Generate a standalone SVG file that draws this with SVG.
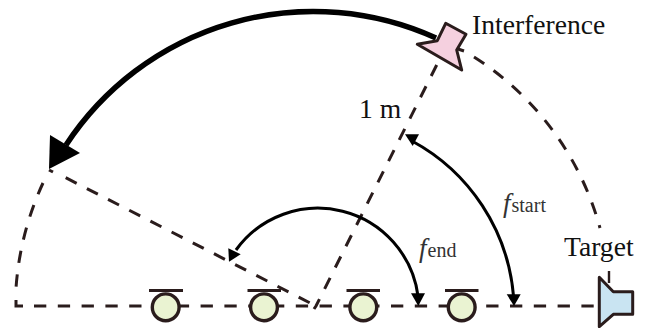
<svg xmlns="http://www.w3.org/2000/svg" width="657" height="328" viewBox="0 0 657 328">
<style>
.dash{fill:none;stroke:#2a1c1c;stroke-width:3;stroke-dasharray:12.3 11.5}
.tick{fill:none;stroke:#2a1c1c;stroke-width:3}
.solid{fill:none;stroke:#000;stroke-width:3}
.mic circle{fill:#EAF3D2;stroke:#2a1c1c;stroke-width:3.4}
.mic line{stroke:#2a1c1c;stroke-width:3.2}
.spk{stroke:#2a1c1c;stroke-width:3;stroke-linejoin:round}
text{font-family:"Liberation Serif","Times New Roman",serif;fill:#111}
.big{font-size:27.6px}
.f{font-size:27px;font-style:italic;fill:#333}
.sub{font-size:20px;font-style:normal;fill:#333}
</style>
<rect width="657" height="328" fill="#fff"/>
<g id="connectors">
<path class="dash" d="M34 306H598"/>
<path class="tick" d="M16 300V306H23"/>
<path class="dash" d="M43 183A300 300 0 0 0 16 288"/>
<path class="tick" d="M49 170L53 172"/>
<path class="dash" d="M65.7 177.7L316 306"/>
<path class="dash" d="M436.7 65L316 306L314 309"/>
<path class="tick" d="M458 49L464 51"/>
<path class="dash" d="M474 57A294 294 0 0 1 600 228"/>
<path d="M609 271V283" fill="none" stroke="#2a1c1c" stroke-width="2.4"/>
<path d="M436 38A296 296 0 0 0 66 145" fill="none" stroke="#000" stroke-width="5.5"/>
<polygon points="50,135 80,153 49,169" fill="#000"/>
<path class="solid" d="M513.5 296A195 195 0 0 0 412 141"/>
<polygon points="506.7,294.3 520.7,294.3 514,306" fill="#000"/>
<polygon points="405,134.3 419,134.3 412.7,146" fill="#000"/>
<path class="solid" d="M418 296A101 101 0 0 0 236 250"/>
<polygon points="411,293.3 425,293.3 418.3,306" fill="#000"/>
<polygon points="229,261.7 228.3,248.3 240.7,254.3" fill="#000"/>
</g>
<g id="interference"><polygon class="spk" fill="#F5D0DF" points="445.7,23.3 466,34.3 456.7,50 461.7,70 417.3,44.3 437.3,40.7"/><text class="big" x="472" y="34">Interference</text></g>
<g id="target"><polygon class="spk" fill="#C9E4F2" points="599.3,277.3 613.3,291.7 632.7,291.7 632.7,314.3 613.3,314.3 599.3,326.7"/><text class="big" x="564" y="256">Target</text></g>
<g id="mic1" class="mic"><line x1="149" y1="290.5" x2="183" y2="290.5"/><circle cx="165.7" cy="307.3" r="13.4"/></g>
<g id="mic2" class="mic"><line x1="247.5" y1="290.5" x2="281" y2="290.5"/><circle cx="264" cy="307.3" r="13.4"/></g>
<g id="mic3" class="mic"><line x1="346.5" y1="290.5" x2="380" y2="290.5"/><circle cx="363.3" cy="307.3" r="13.4"/></g>
<g id="mic4" class="mic"><line x1="445" y1="290.5" x2="478.5" y2="290.5"/><circle cx="461.7" cy="307.3" r="13.4"/></g>
<g id="label-dist"><text class="big" x="359" y="118">1 m</text></g>
<g id="label-fstart"><text class="f" x="503" y="212">f<tspan class="sub" dx="1">start</tspan></text></g>
<g id="label-fend"><text class="f" x="419" y="257">f<tspan class="sub" dx="1">end</tspan></text></g>
</svg>
